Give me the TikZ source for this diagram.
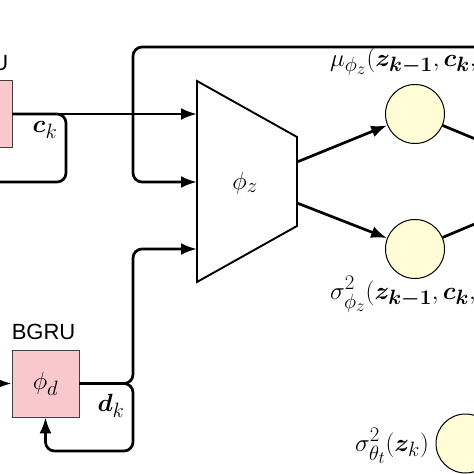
\documentclass[tikz,border=0pt]{standalone}
\usepackage{amsmath}
\usepackage{bm}
\usepackage{fontspec}
\newfontfamily\labelsans{Liberation Sans}
\usetikzlibrary{arrows.meta,calc}
\definecolor{pinkc}{RGB}{248,200,204}
\definecolor{yellc}{RGB}{255,252,214}
\begin{document}
\begin{tikzpicture}[x=1pt,y=-1pt,
  conn/.style={line width=2.7pt, rounded corners=9pt},
  arr/.style={conn, -{Latex[length=16pt,width=12pt]}},
  gru/.style={draw=black!75, line width=0.8pt, fill=pinkc, minimum width=67pt, minimum height=67pt, inner sep=0pt, font=\Huge},
  gauss/.style={circle, draw=black, line width=1pt, fill=yellc, minimum size=59pt, inner sep=0pt},
  lbl/.style={font=\Huge, inner sep=0pt},
  gname/.style={font=\labelsans\fontsize{22}{26}\selectfont, inner sep=0pt}]
\useasboundingbox (0,0) rectangle (474,474);
\clip (0,0) rectangle (474,474);

% GRU boxes
\node[gru] (box1) at (-21.5,114) {};
\node[gname, anchor=base west] (name1) at ($(box1.north west)+(0,-10)$) {BGRU};
\node[gru] (box2) at (45.5,383.5) {$\phi_d$};
\node[gname, anchor=base west] (name2) at ($(box2.north west)+(0,-10)$) {BGRU};

% encoder trapezoid
\coordinate (tl) at (197,81);
\coordinate (tr) at (297,137);
\coordinate (br) at (297,226);
\coordinate (bl) at (197,282);
\draw[line width=1.9pt, line join=miter] (tl) -- (tr) -- (br) -- (bl) -- cycle;
\node[lbl] (phiz) at (245,183) {$\phi_z$};
\coordinate (in1) at (197,114);
\coordinate (in2) at (197,182);
\coordinate (in3) at (197,249);
\coordinate (out1) at (297,162);
\coordinate (out2) at (297,203);

% gaussian parameter nodes
\node[gauss] (mu) at (415,114) {};
\node[gauss] (sig) at (415,249) {};
\node[gauss] (sigt) at (465.5,443.5) {};
\node[lbl, anchor=base west] (mulbl) at (330,66) {$\mu_{\phi_z}(\bm{z_{k-1}},\bm{c_k},\bm{d_k})$};
\node[lbl, anchor=base west] (siglbl) at (330,299) {$\sigma^2_{\phi_z}(\bm{z_{k-1}},\bm{c_k},\bm{d_k})$};
\node[lbl, anchor=base west] (sigtlbl) at (355,451) {$\sigma^2_{\theta_t}(\bm{z}_k)$};

% helper coordinates
\coordinate (j1) at (66,114);
\coordinate (lp1) at (-21.5,182);
\coordinate (fb) at (490,47);
\coordinate (fbc) at (133,182);
\coordinate (j2) at (133,383.5);
\coordinate (lp2) at (45.5,451);
\coordinate (lin) at (-20,383.5);
\coordinate (r1) at (520,157.5);
\coordinate (r2) at (520,205);

% connectors
\draw[arr] (box1.east) -- (in1);
\draw[arr] (box1.east) -- (j1) |- (lp1) -- (box1.south);
\node[lbl] (cklbl) at (45,130) {$\bm{c}_k$};
\draw[arr] (fb) -| (fbc) -- (in2);
\draw[arr] (box2.east) -- (j2) |- (in3);
\draw[arr] (box2.east) -- (j2) |- (lp2) -- (box2.south);
\node[lbl] (dklbl) at (111,406) {$\bm{d}_k$};
\draw[arr] (lin) -- (box2.west);
\draw[arr] (out1) -- (mu);
\draw[arr] (out2) -- (sig);
\draw[conn] (mu) -- (r1);
\draw[conn] (sig) -- (r2);
\end{tikzpicture}
\end{document}
